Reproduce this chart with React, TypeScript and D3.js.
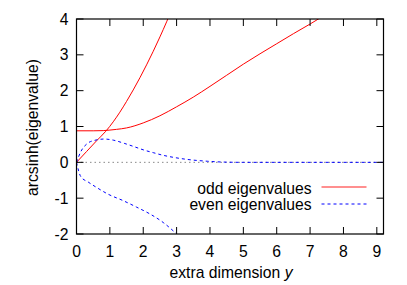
import React from "react";
import * as d3 from "d3";

const oddAX = [0, 0.3, 0.6, 0.88, 1.1, 1.3, 1.5, 1.7, 1.9, 2.1, 2.3, 2.5, 2.7, 2.75];
const oddAY = [0, 0.3, 0.6, 0.87, 1.13, 1.4, 1.7, 2.02, 2.36, 2.72, 3.1, 3.5, 3.92, 4.03];

const oddBX = [0, 0.5, 0.8, 1.0, 1.2, 1.5, 2.0, 2.5, 3.0, 3.5, 4.0, 4.5, 5.0, 5.5, 6.0, 6.5, 7.0, 7.3];
const oddBY = [0.88, 0.88, 0.885, 0.9, 0.92, 0.96, 1.1, 1.3, 1.55, 1.82, 2.12, 2.43, 2.74, 3.03, 3.31, 3.59, 3.86, 4.03];

const evenAX = [0, 0.13, 0.33, 0.53, 0.83, 1.1, 1.43, 1.75, 2.03, 2.3, 2.58, 2.9, 3.33, 3.93, 4.5, 5, 9.2];
const evenAY = [0, 0.3, 0.53, 0.61, 0.65, 0.62, 0.53, 0.43, 0.34, 0.27, 0.2, 0.14, 0.08, 0.03, 0.005, 0, 0];

const evenBX = [0, 0.13, 0.35, 0.6, 0.95, 1.4, 1.8, 2.2, 2.6, 2.98];
const evenBY = [0, -0.4, -0.55, -0.7, -0.89, -1.07, -1.25, -1.44, -1.68, -1.98];

const xTicks = [0, 1, 2, 3, 4, 5, 6, 7, 8, 9];
const yTicks = [-2, -1, 0, 1, 2, 3, 4];
const legendLabels = ["odd eigenvalues", "even eigenvalues"];

const W = 407;
const H = 285;
const L = 76.5;
const R = 383.5;
const T = 19;
const B = 234;
const FS = 15.7;
const font = "'Liberation Sans', Arial, Helvetica, sans-serif";

export default function App() {
  const x = d3.scaleLinear().domain([0, 9.2]).range([L, R]);
  const y = d3.scaleLinear().domain([-2, 4]).range([B, T]);
  const line = d3
    .line<[number, number]>()
    .x((d) => x(d[0]))
    .y((d) => y(d[1]))
    .curve(d3.curveMonotoneX);
  const zip = (a: number[], b: number[]) => a.map((v, i) => [v, b[i]] as [number, number]);

  return (
    <svg
      width={W}
      height={H}
      style={{ position: "absolute", left: 0, top: 0, background: "#fff" }}
      fontFamily={font}
    >
      <defs>
        <clipPath id="plot">
          <rect x={L} y={T} width={R - L} height={B - T} />
        </clipPath>
      </defs>
      <rect width={W} height={H} fill="#fff" />
      <line
        x1={x(0)}
        x2={x(9.2)}
        y1={y(0)}
        y2={y(0)}
        stroke="#888"
        strokeWidth={1}
        strokeDasharray="1.5,3"
      />
      <g clipPath="url(#plot)" fill="none" strokeWidth={1}>
        <path d={line(zip(oddAX, oddAY)) || ""} stroke="#ff0000" />
        <path d={line(zip(oddBX, oddBY)) || ""} stroke="#ff0000" />
        <path d={line(zip(evenAX, evenAY)) || ""} stroke="#0000ff" strokeDasharray="3,3" />
        <path d={line(zip(evenBX, evenBY)) || ""} stroke="#0000ff" strokeDasharray="3,3" />
      </g>
      <g stroke="#000" strokeWidth={1}>
        {xTicks.map((t) => (
          <g key={"xt" + t}>
            <line x1={x(t)} x2={x(t)} y1={B} y2={B - 7} />
            <line x1={x(t)} x2={x(t)} y1={T} y2={T + 7} />
          </g>
        ))}
        {yTicks.map((t) => (
          <g key={"yt" + t}>
            <line x1={L} x2={L + 7} y1={y(t)} y2={y(t)} />
            <line x1={R} x2={R - 7} y1={y(t)} y2={y(t)} />
          </g>
        ))}
      </g>
      <rect x={L} y={T} width={R - L} height={B - T} fill="none" stroke="#000" strokeWidth={1.2} />
      <g fontSize={FS} fill="#000">
        {xTicks.map((t) => (
          <text key={"xl" + t} x={x(t)} y={256.5} textAnchor="middle">
            {t}
          </text>
        ))}
        {yTicks.map((t) => (
          <text key={"yl" + t} x={68.5} y={y(t) + 5.5} textAnchor="end">
            {t}
          </text>
        ))}
      </g>
      <text x={231} y={278} fontSize={FS} textAnchor="middle">
        extra dimension <tspan fontStyle="italic">y</tspan>
      </text>
      <text transform={`translate(38,127.5) rotate(-90)`} fontSize={FS} textAnchor="middle">
        arcsinh(eigenvalue)
      </text>
      <g fontSize={FS}>
        <text x={311.5} y={194} textAnchor="end">
          {legendLabels[0]}
        </text>
        <text x={311.5} y={209.5} textAnchor="end">
          {legendLabels[1]}
        </text>
      </g>
      <line x1={321.5} x2={366.5} y1={187} y2={187} style={{ stroke: "#ff2020", strokeWidth: 1.2 }} />
      <line
        x1={321.5}
        x2={366.5}
        y1={204}
        y2={204}
        style={{ stroke: "#0000ff", strokeWidth: 1, strokeDasharray: "3,3" }}
      />
    </svg>
  );
}
